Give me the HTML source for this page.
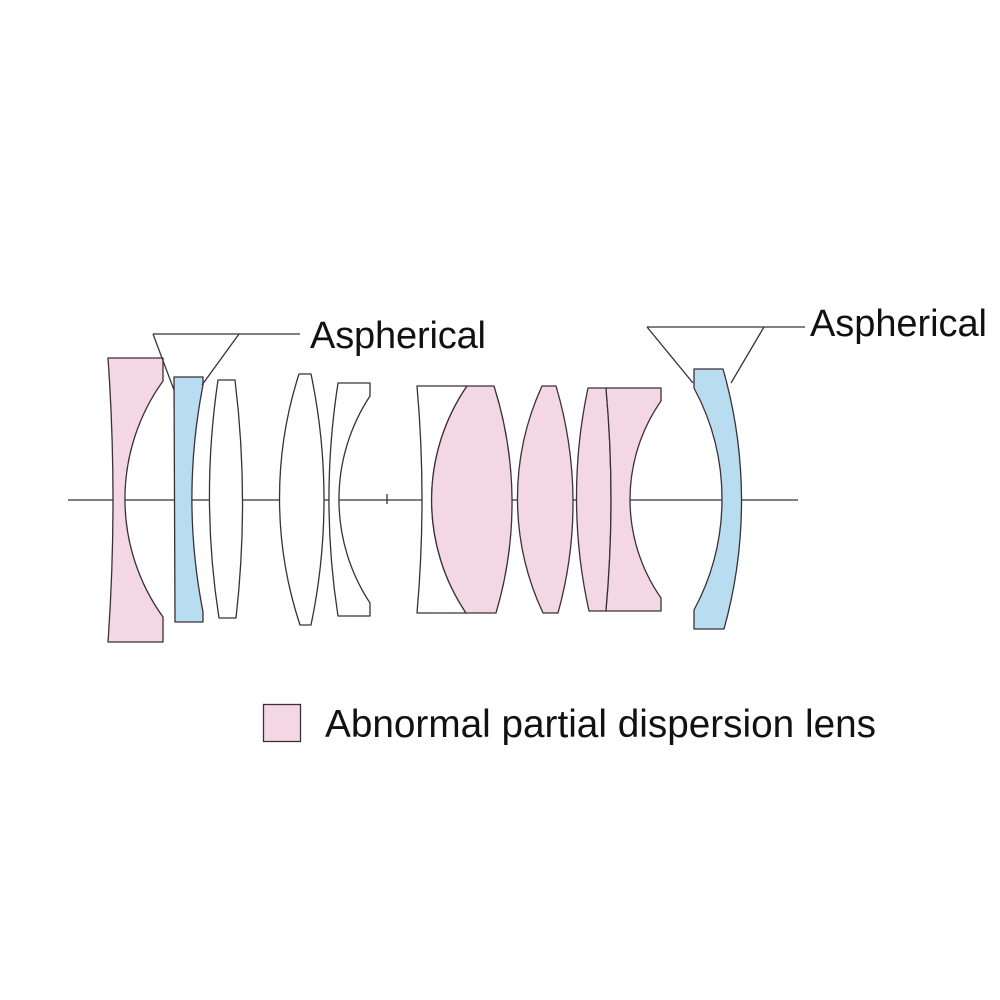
<!DOCTYPE html>
<html><head><style>html,body{margin:0;padding:0;background:#fff}svg{display:block}</style></head>
<body>
<svg width="1000" height="1000" viewBox="0 0 1000 1000" xmlns="http://www.w3.org/2000/svg">
<g stroke="#3a3035" stroke-width="1.3" stroke-linejoin="round">
<line x1="68" y1="500" x2="798" y2="500"/>
<line x1="387" y1="494" x2="387" y2="504"/>
<!-- lens1 pink -->
<path d="M108,358 L163,358 L163,381 A202,202 0 0 0 163,617 L163,642 L108,642 A2019,2019 0 0 0 108,358 Z" fill="#f4d7e5"/>
<!-- lens2 blue -->
<path d="M174,377 L203,377 L203,385 A591,591 0 0 0 203,612 L203,622 L175,622 L174,377 Z" fill="#b8dcf0"/>
<!-- lens3 -->
<path d="M218,380 L235,380 A1015,1015 0 0 1 236,618 L219,618 A791,791 0 0 1 218,380 Z" fill="#fff"/>
<!-- lens4 -->
<path d="M299,374 L311,374 A612,612 0 0 1 311,625 L300,625 A404,404 0 0 1 299,374 Z" fill="#fff"/>
<!-- lens5 -->
<path d="M338,383 L370,383 L370,396 A188,188 0 0 0 370,603 L370,616 L338,616 A758,758 0 0 1 338,383 Z" fill="#fff"/>
<!-- lens6 -->
<path d="M417,386 L467,386 A202,202 0 0 0 466,613 L417,613 A1291,1291 0 0 0 417,386 Z" fill="#fff"/>
<path d="M467,386 L494,386 A387,387 0 0 1 496,613 L466,613 A202,202 0 0 1 467,386 Z" fill="#f4d7e5"/>
<!-- lens7 -->
<path d="M542,386 L556,386 A411,411 0 0 1 558,613 L543,613 A270,270 0 0 1 542,386 Z" fill="#f4d7e5"/>
<!-- lens8 -->
<path d="M588,388 L606,388 A1246,1246 0 0 1 606,611 L589,611 A524,524 0 0 1 588,388 Z" fill="#f4d7e5"/>
<path d="M606,388 L661,388 L661,401 A172,172 0 0 0 661,598 L661,611 L606,611 A1246,1246 0 0 0 606,388 Z" fill="#f4d7e5"/>
<!-- lens9 blue -->
<path d="M694,369 L723,369 A478,478 0 0 1 724,629 L694,629 L694,610 A234,234 0 0 0 694,388 Z" fill="#b8dcf0"/>
<g fill="none">
<line x1="153" y1="334" x2="300" y2="334"/>
<line x1="153" y1="334" x2="174" y2="390"/>
<line x1="239" y1="334" x2="202" y2="385"/>
<line x1="647" y1="327" x2="805" y2="327"/>
<line x1="647" y1="327" x2="693" y2="383"/>
<line x1="764" y1="327" x2="731" y2="383"/>
</g>
</g>
<text x="310" y="348" font-family="Liberation Sans Narrow, Liberation Sans, sans-serif" font-size="38" textLength="176" lengthAdjust="spacing" fill="#111">Aspherical</text>
<text x="810" y="336" font-family="Liberation Sans Narrow, Liberation Sans, sans-serif" font-size="38" textLength="177" lengthAdjust="spacing" fill="#111">Aspherical</text>
<rect x="263.5" y="704.5" width="37" height="37" fill="#f4d7e5" stroke="#3a3035" stroke-width="1.3"/>
<text x="325" y="737" font-family="Liberation Sans, sans-serif" font-size="39" textLength="551" lengthAdjust="spacingAndGlyphs" fill="#111">Abnormal partial dispersion lens</text>
</svg>
</body></html>
